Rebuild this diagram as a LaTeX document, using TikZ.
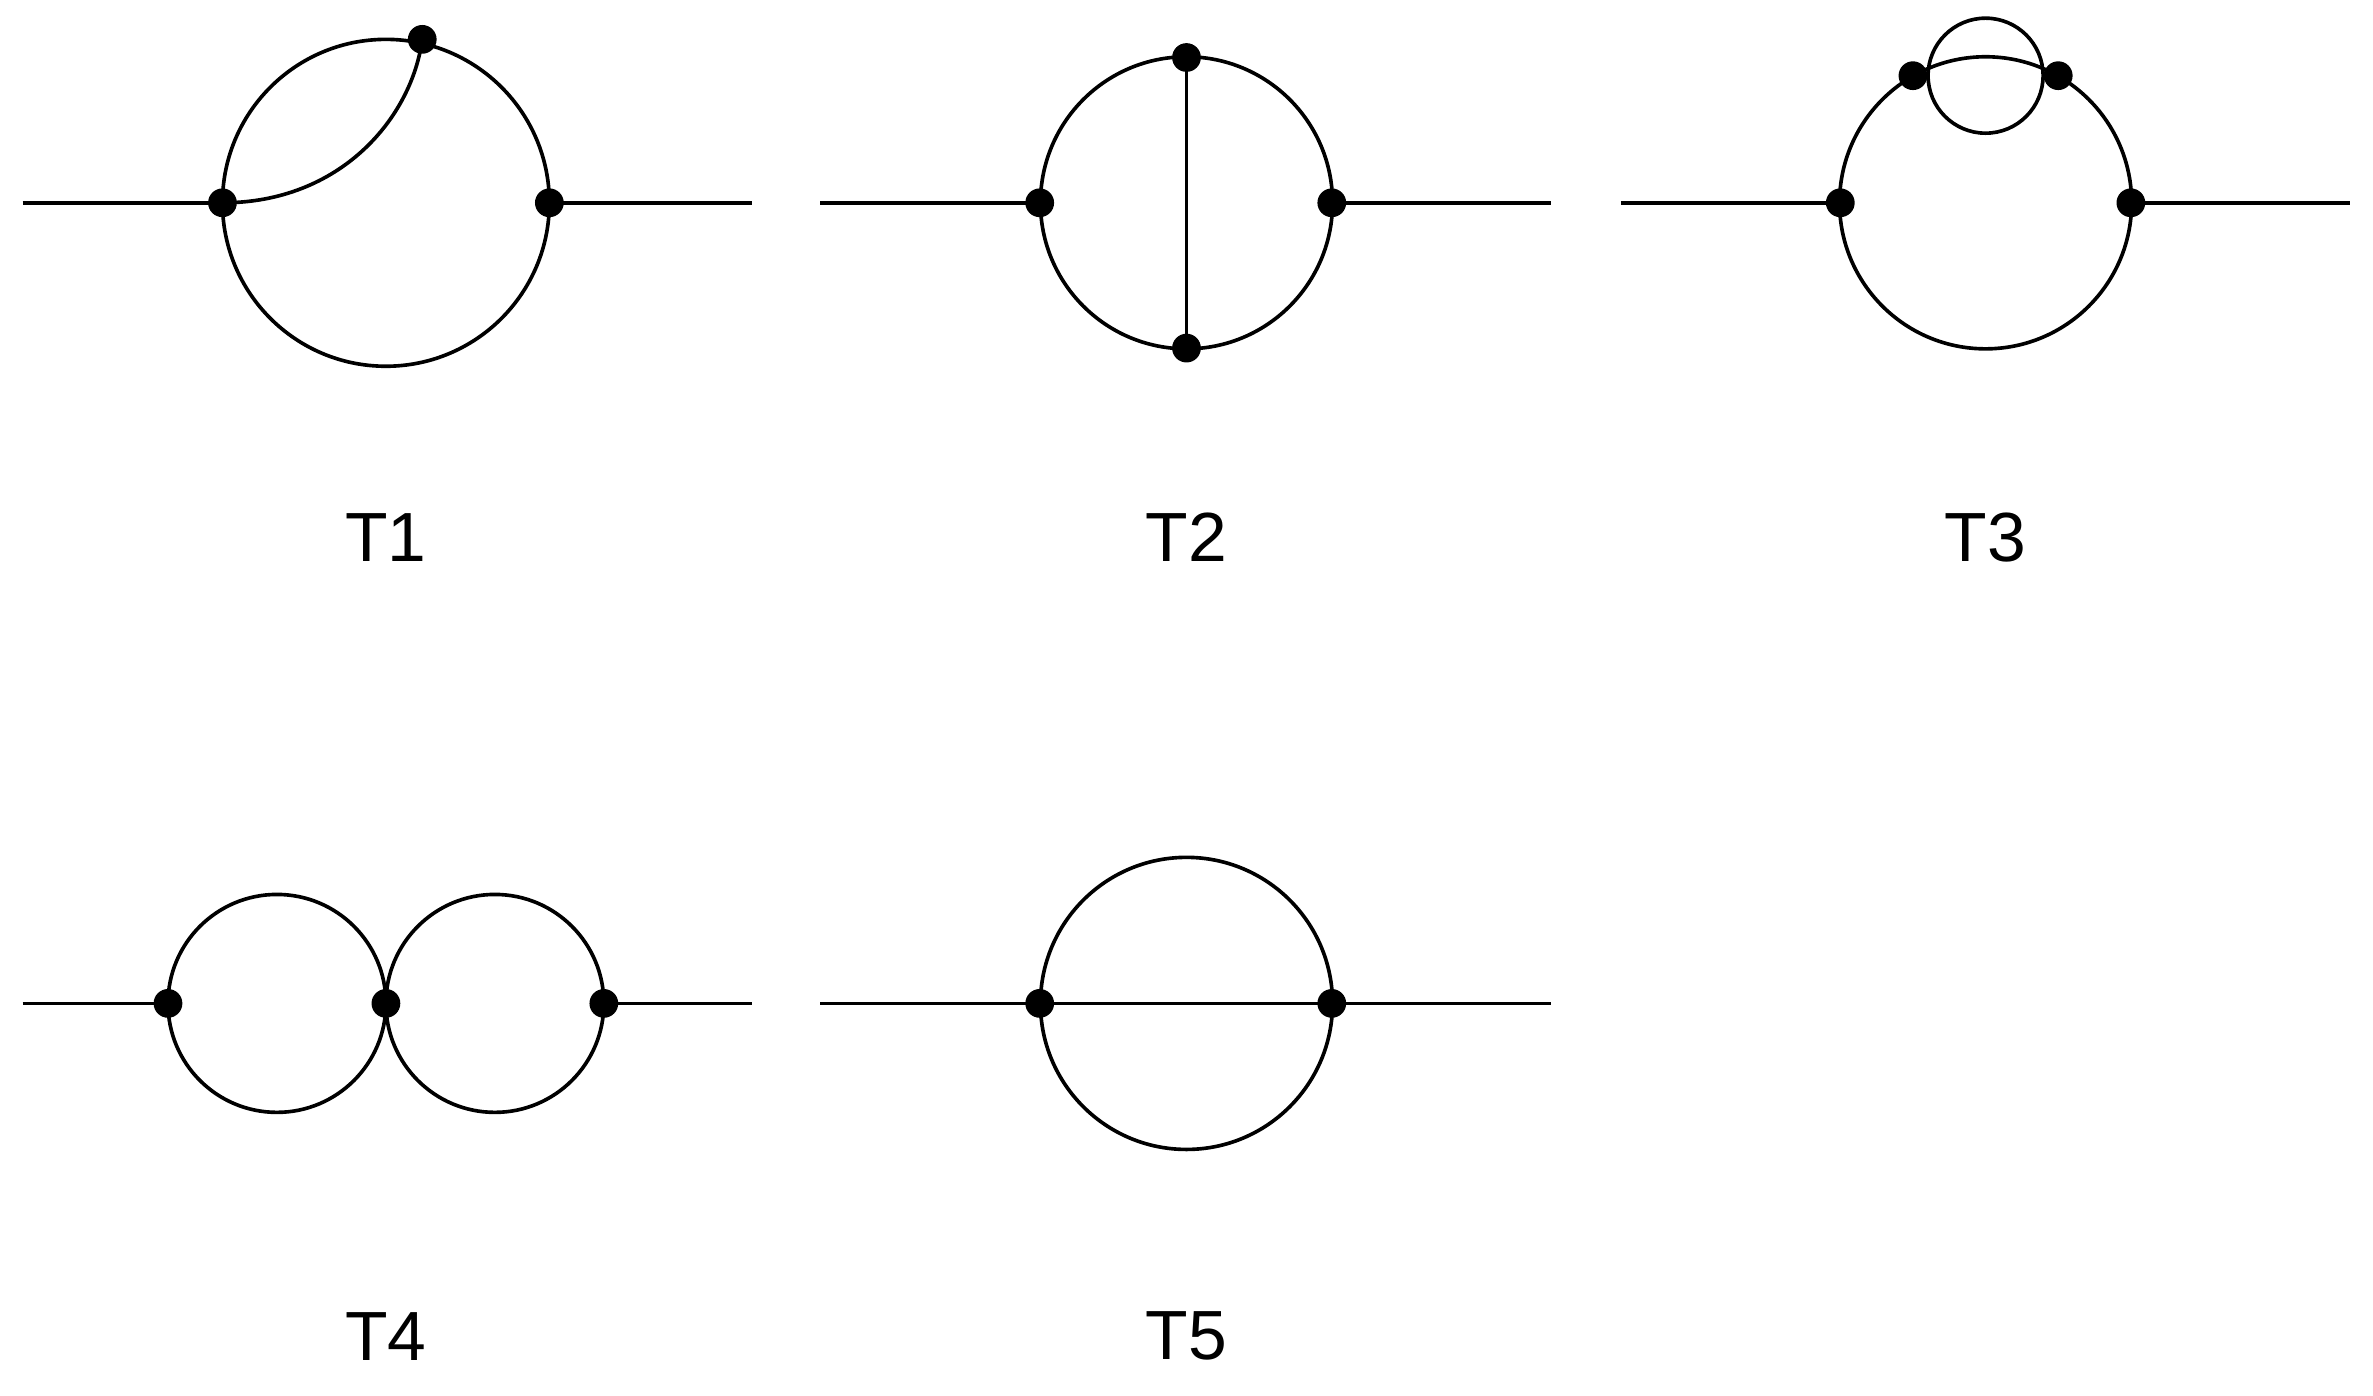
\documentclass[tikz,border=0pt]{standalone}
\usepackage{fontspec}
\setmainfont{Liberation Sans}
\begin{document}
\begin{tikzpicture}[x=1pt,y=-1pt,line width=2.4pt,
  vtx/.style={circle,fill=black,inner sep=0pt,minimum size=19pt},
  lab/.style={font=\fontsize{46}{50}\selectfont}]
\useasboundingbox (0,0) rectangle (1568,922);
% T1
\node[vtx] (a1) at (147,134) {};
\node[vtx] (b1) at (363,134) {};
\node[vtx] (c1) at (279,26) {};
\draw (15,134) -- (a1.center);
\draw (b1.center) -- (497,134);
\draw (255,134) circle (108);
\draw (a1.center) .. controls (225,134) and (272,78) .. (c1.center);
\node[lab] at (255,355) {T1};
% T2
\node[vtx] (a2) at (687,134) {};
\node[vtx] (b2) at (880,134) {};
\node[vtx] (t2) at (784,38) {};
\node[vtx] (d2) at (784,230) {};
\draw (542,134) -- (a2.center);
\draw (b2.center) -- (1025,134);
\draw (784,134) circle (96.5);
\draw (t2.center) -- (d2.center);
\node[lab] at (784,355) {T2};
% T3
\node[vtx] (a3) at (1216,134) {};
\node[vtx] (b3) at (1408,134) {};
\node[vtx] (p3) at (1264,50) {};
\node[vtx] (q3) at (1360,50) {};
\draw (1071,134) -- (a3.center);
\draw (b3.center) -- (1553,134);
\draw (1312,134) circle (96.5);
\draw (1312,50) circle (38);
\node[lab] at (1312,355) {T3};
% T4
\node[vtx] (a4) at (111,663) {};
\node[vtx] (m4) at (255,663) {};
\node[vtx] (b4) at (399,663) {};
\draw (15,663) -- (a4.center);
\draw (b4.center) -- (497,663);
\draw (183,663) circle (72);
\draw (327,663) circle (72);
\node[lab] at (255,883) {T4};
% T5
\node[vtx] (a5) at (687,663) {};
\node[vtx] (b5) at (880,663) {};
\draw (542,663) -- (a5.center) -- (b5.center) -- (1025,663);
\draw (784,663) circle (96.5);
\node[lab] at (784,883) {T5};
\end{tikzpicture}
\end{document}
